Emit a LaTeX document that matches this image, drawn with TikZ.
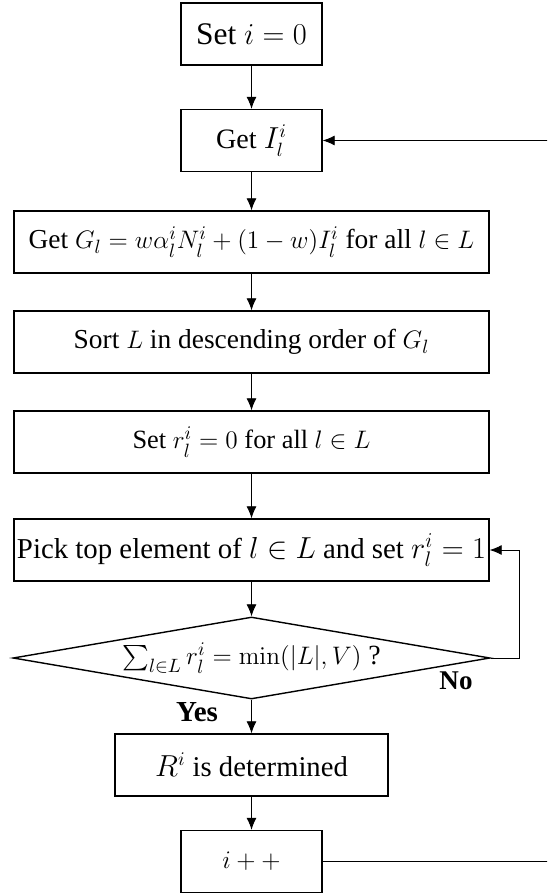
\documentclass[tikz,border=0pt]{standalone}
\usepackage{amsmath}
\usepackage[no-math]{fontspec}
\setmainfont{Liberation Serif}
\usetikzlibrary{positioning,arrows.meta,shapes.geometric}

\tikzset{
  stepbox/.style={draw, line width=0.8pt, minimum height=1.24cm, inner sep=0pt},
  check/.style={draw, diamond, aspect=5.8, line width=0.8pt, inner sep=0pt,
    minimum width=9.54cm, minimum height=1.64cm},
  fsize/.style={font=\fontsize{#1}{#1}\selectfont},
  flow/.style={-{Latex[length=2.4mm,width=2mm]}, line width=0.5pt},
}

\begin{document}
\begin{tikzpicture}[font=\fontsize{15.4}{18}\selectfont]
  \useasboundingbox (0,0) rectangle (10.94,-17.88);
  \clip (0,0) rectangle (10.94,-17.88);

  % Steps
  \node[stepbox, fsize=17.9, minimum width=2.82cm] (seti) at (5.03,-0.68) {Set $i=0$};
  \node[stepbox, fsize=16, minimum width=2.82cm] (getI) at (5.03,-2.81) {Get $I_l^i$};
  \node[stepbox, fsize=15.6, minimum width=9.5cm] (getG) at (5.03,-4.84)
    {Get $G_l=w\alpha_l^iN_l^i+(1-w)I_l^i$ for all $l\in L$};
  \node[stepbox, fsize=15.6, minimum width=9.5cm] (sort) at (5.03,-6.84)
    {Sort $L$ in descending order of $G_l$};
  \node[stepbox, fsize=15, minimum width=9.5cm] (setr) at (5.03,-8.84)
    {Set $r_l^i=0$ for all $l\in L$};
  \node[stepbox, fsize=16.4, minimum width=9.5cm] (pick) at (5.03,-11.0)
    {Pick top element of $l\in L$ and set $r_l^i=1$};
  \node[check, fsize=15.8] (dec) at (5.03,-13.16)
    {$\sum_{l\in L}r_l^i=\min(|L|,V)$ ?};
  \node[stepbox, fsize=16.3, minimum width=5.46cm] (done) at (5.03,-15.3)
    {$R^i$ is determined};
  \node[stepbox, minimum width=2.82cm] (inc) at (5.03,-17.23) {$i++$};

  % Branch labels
  \node at (9.12,-13.62) {\textbf{No}};
  \node[fsize=16.5] at (3.94,-14.24) {\textbf{Yes}};

  % Main flow
  \draw[flow] (seti) -- (getI);
  \draw[flow] (getI) -- (getG);
  \draw[flow] (getG) -- (sort);
  \draw[flow] (sort) -- (setr);
  \draw[flow] (setr) -- (pick);
  \draw[flow] (pick) -- (dec);
  \draw[flow] (dec) -- (done);
  \draw[flow] (done) -- (inc);

  % Loops
  \coordinate (nox) at (10.38,0);
  \coordinate (rim) at (11.0,0);
  \draw[flow] (dec.east) -- (dec.east -| nox) |- (pick.east);
  \draw[flow] (inc.east) -- (inc.east -| rim) |- (getI.east);
\end{tikzpicture}
\end{document}
